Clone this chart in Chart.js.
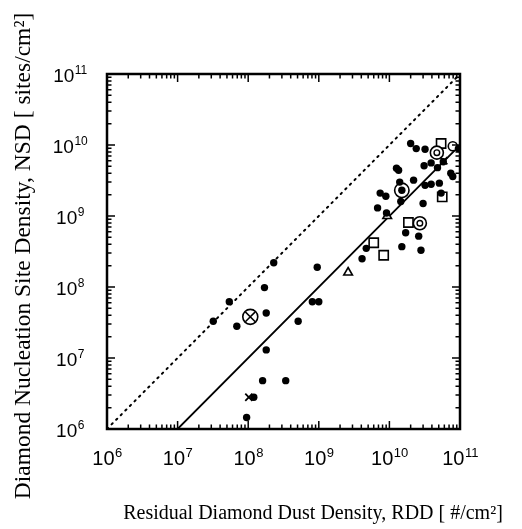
<!DOCTYPE html>
<html>
<head>
<meta charset="utf-8">
<script src="https://cdn.jsdelivr.net/npm/chart.js@4/dist/chart.umd.min.js"></script>
<style>
    html, body { margin: 0; padding: 0; background: #fff; }
    canvas { display: block; }
</style>
</head>
<body>
<canvas id="chart" width="522" height="529"></canvas>
<script>
// Values: [RDD (#/cm2), NSD (sites/cm2)]
const filledDots = [
    [3.2e7, 3.3e7], [5.4e7, 6.2e7], [6.9e7, 2.8e7], [1.7e8, 9.8e7],
    [1.8e8, 4.3e7], [2.3e8, 2.2e8], [1.8e8, 1.3e7], [1.6e8, 4.8e6],
    [3.4e8, 4.8e6], [1.2e8, 2.8e6], [9.5e7, 1.45e6], [5.1e8, 3.3e7],
    [8.1e8, 6.2e7], [1.0e9, 6.2e7], [9.5e8, 1.9e8], [4.1e9, 2.5e8],
    [4.7e9, 3.5e8], [1.5e10, 3.7e8], [2.8e10, 3.3e8], [1.7e10, 5.8e8],
    [2.6e10, 5.2e8], [3.0e10, 1.5e9], [6.8e9, 1.3e9], [9.1e9, 1.1e9],
    [7.4e9, 2.1e9], [8.9e9, 1.9e9], [1.45e10, 1.6e9], [1.26e10, 4.7e9],
    [1.35e10, 4.4e9], [1.4e10, 3.0e9], [2.2e10, 3.2e9], [2.0e10, 1.05e10],
    [2.4e10, 8.9e9], [3.2e10, 8.7e9], [9.5e10, 8.9e9], [3.1e10, 5.1e9],
    [3.9e10, 5.6e9], [4.8e10, 4.8e9], [7.4e10, 4.0e9], [7.9e10, 3.6e9],
    [3.2e10, 2.7e9], [3.9e10, 2.8e9], [5.1e10, 2.9e9], [5.4e10, 2.1e9],
    [5.8e10, 5.8e9], [1.5e10, 2.3e9]
];
const openSquares = [[6.0e9, 4.2e8], [8.3e9, 2.8e8], [1.86e10, 8.1e8], [5.4e10, 1.05e10], [5.6e10, 1.86e9]];
const openTriangles = [[2.6e9, 1.6e8], [9.3e9, 1.0e9]];
const bullseyes = [[2.7e10, 7.9e8], [4.7e10, 7.8e9]];
const bigCircles = [[1.5e10, 2.3e9]];
const crossedCircles = [[1.07e8, 3.8e7]];
const crosses = [[1.02e8, 2.8e6], [5.9e10, 6.0e9]];
const openCircles = [[7.9e10, 9.6e9]];

// Lines: fitted trend and NSD = RDD
const fitLine = [[1.0e7, 1.0e6], [8.7e10, 8.7e9]];
const unityLine = [[1e6, 1e6], [1e11, 1e11]];

// Axis ticks
const tickExponents = [6, 7, 8, 9, 10, 11];
const xTitle = 'Residual Diamond Dust Density, RDD [ #/cm\u00B2]';
const yTitle = 'Diamond Nucleation Site Density, NSD [ sites/cm\u00B2]';

const toPoints = (arr) => arr.map(([x, y]) => ({x, y}));

function markerSet(data, style, radius, fill, width) {
    return {
        type: 'scatter',
        data: toPoints(data),
        pointStyle: style,
        pointRadius: radius,
        pointBackgroundColor: fill,
        pointBorderColor: '#000',
        pointBorderWidth: width,
        showLine: false
    };
}

function lineSet(data, dash) {
    return {
        type: 'line',
        data: toPoints(data),
        borderColor: '#000',
        borderWidth: dash ? 2 : 1.8,
        borderDash: dash || [],
        borderCapStyle: 'round',
        pointRadius: 0,
        fill: false
    };
}

// "10" with a raised exponent, centred on cx
function drawPower(ctx, exp, cx, baseline, size, supSize) {
    const base = size + 'px "Liberation Sans", Arial, sans-serif';
    const sup = supSize + 'px "Liberation Sans", Arial, sans-serif';
    ctx.font = base;
    const w1 = ctx.measureText('10').width;
    ctx.font = sup;
    const w2 = ctx.measureText(String(exp)).width;
    const start = cx - (w1 + w2) / 2;
    ctx.font = base;
    ctx.fillText('10', start, baseline);
    ctx.font = sup;
    ctx.fillText(String(exp), start + w1 + 0.5, baseline - 8);
}

const frameAndTicks = {
    id: 'frameAndTicks',
    afterDatasetsDraw(chart) {
        const {ctx, chartArea: a, scales: {x, y}} = chart;
        ctx.save();
        ctx.strokeStyle = '#000';
        ctx.fillStyle = '#000';

        // inward ticks on all four sides
        ctx.lineWidth = 1.5;
        ctx.beginPath();
        const last = tickExponents[tickExponents.length - 1];
        for (let d = tickExponents[0]; d <= last; d++) {
            for (let m = 1; m <= 9; m++) {
                if (d === last && m > 1) {
                    break;
                }
                const v = m * Math.pow(10, d);
                const len = m === 1 ? 8 : 4.5;
                const px = x.getPixelForValue(v);
                const py = y.getPixelForValue(v);
                ctx.moveTo(px, a.bottom); ctx.lineTo(px, a.bottom - len);
                ctx.moveTo(px, a.top); ctx.lineTo(px, a.top + len);
                ctx.moveTo(a.left, py); ctx.lineTo(a.left + len, py);
                ctx.moveTo(a.right, py); ctx.lineTo(a.right - len, py);
            }
        }
        ctx.stroke();

        // frame
        ctx.lineWidth = 2.5;
        ctx.strokeRect(a.left, a.top, a.right - a.left, a.bottom - a.top);

        // tick labels
        ctx.textAlign = 'left';
        ctx.textBaseline = 'alphabetic';
        tickExponents.forEach((e) => {
            const v = Math.pow(10, e);
            drawPower(ctx, e, x.getPixelForValue(v), a.bottom + 36, 20, 13);
            drawPower(ctx, e, 70, y.getPixelForValue(v) + 8, 19, 12);
        });

        // axis titles
        ctx.textAlign = 'center';
        ctx.font = '20px "Liberation Serif", "Times New Roman", serif';
        ctx.fillText(xTitle, 313, 519);
        ctx.save();
        ctx.translate(30, 256);
        ctx.rotate(-Math.PI / 2);
        ctx.font = '23.5px "Liberation Serif", "Times New Roman", serif';
        ctx.fillText(yTitle, 0, 0);
        ctx.restore();

        ctx.restore();
    }
};

new Chart(document.getElementById('chart'), {
    data: {
        datasets: [
            markerSet(filledDots, 'circle', 3.7, '#000', 0),
            markerSet(crosses, 'crossRot', 5, '#000', 1.8),
            markerSet(crossedCircles, 'crossRot', 7, '#000', 1.5),
            markerSet(crossedCircles, 'circle', 7.5, '#fff', 1.6),
            markerSet(bigCircles, 'circle', 7.2, '#fff', 1.6),
            markerSet(bullseyes, 'circle', 2.8, '#fff', 1.4),
            markerSet(bullseyes, 'circle', 6.5, '#fff', 1.6),
            markerSet(openCircles, 'circle', 4.5, '#fff', 1.6),
            markerSet(openSquares, 'rect', 6.5, '#fff', 1.6),
            markerSet(openTriangles, 'triangle', 5, '#fff', 1.6),
            lineSet(fitLine),
            lineSet(unityLine, [1.5, 5])
        ]
    },
    options: {
        responsive: false,
        animation: false,
        devicePixelRatio: 1,
        layout: { padding: { left: 107, top: 74, right: 62, bottom: 100 } },
        plugins: { legend: { display: false }, tooltip: { enabled: false } },
        scales: {
            x: { type: 'logarithmic', min: 1e6, max: 1e11, display: false },
            y: { type: 'logarithmic', min: 1e6, max: 1e11, display: false }
        }
    },
    plugins: [frameAndTicks]
});
</script>
</body>
</html>
